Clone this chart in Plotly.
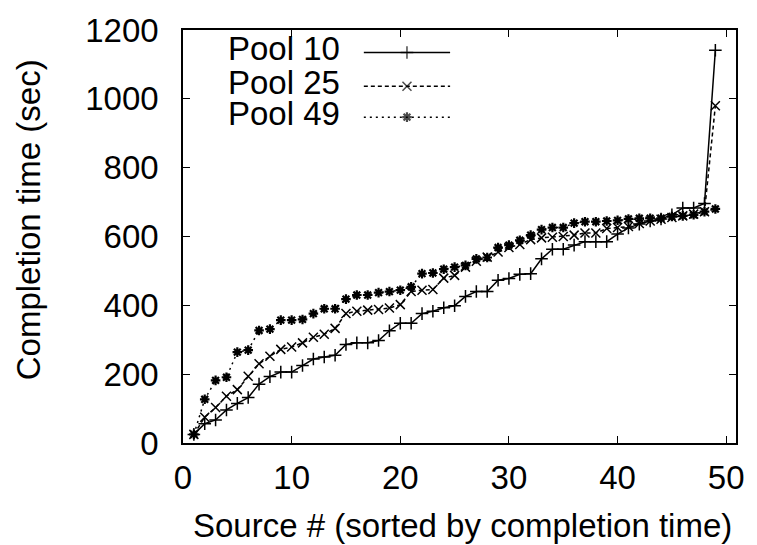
import plotly.graph_objects as go

# Completion time (sec) of each source, sorted, for three pool sizes
source_idx = list(range(1, 50))
pool10 = [25, 56, 67, 96, 115, 132, 171, 193, 206, 206, 225, 244, 250, 255, 286,
          291, 291, 298, 326, 348, 348, 376, 383, 393, 399, 426, 440, 440, 473, 478,
          490, 492, 535, 563, 563, 575, 585, 585, 585, 607, 625, 636, 645, 651, 663,
          683, 683, 696, 1141]
pool25 = [25, 75, 103, 136, 155, 194, 230, 252, 272, 279, 291, 307, 316, 333, 376,
          383, 386, 388, 392, 402, 440, 444, 446, 479, 487, 511, 528, 540, 555, 568,
          577, 591, 596, 598, 600, 604, 610, 610, 623, 626, 629, 638, 645, 650, 655,
          660, 665, 672, 980]
pool49 = [25, 127, 182, 191, 264, 270, 327, 331, 357, 357, 359, 376, 390, 390, 418,
          430, 430, 437, 440, 444, 454, 492, 494, 505, 511, 516, 535, 539, 568, 575,
          589, 604, 620, 626, 626, 639, 643, 643, 645, 647, 651, 653, 653, 653, 658,
          660, 663, 672, 680]

series_names = ["Pool 10", "Pool 25", "Pool 49"]
x_ticks = [0, 10, 20, 30, 40, 50]
y_ticks = [0, 200, 400, 600, 800, 1000, 1200]

FONT = "Liberation Sans, Arial, Helvetica, sans-serif"
FS = 33
styles = [
    dict(dash="solid", symbol="cross-thin", size=9, mlw=1.5),
    dict(dash="4px,3px", symbol="x-thin", size=9, mlw=1.5),
    dict(dash="2px,4px", symbol="asterisk", size=8, mlw=2.2),
]

fig = go.Figure()
for name, ys, st in zip(series_names, [pool10, pool25, pool49], styles):
    fig.add_trace(go.Scatter(
        x=source_idx, y=ys, name=name, mode="lines+markers",
        line=dict(color="black", width=1.5, dash=st["dash"]),
        marker=dict(symbol=st["symbol"], size=st["size"], color="black",
                    line=dict(color="black", width=st["mlw"])),
        showlegend=False,
    ))

# Key drawn inside the plot: text on the left, sample line with marker on the right
key_rows = [0.9455, 0.8637, 0.789]
key_x0, key_x1, key_text_x = 0.327, 0.483, 0.2855
for name, st, ky in zip(series_names, styles, key_rows):
    fig.add_trace(go.Scatter(
        x=[key_x0, (key_x0 + key_x1) / 2, key_x1], y=[ky, ky, ky],
        xaxis="x2", yaxis="y2", mode="lines+markers",
        line=dict(color="black", width=1.5, dash=st["dash"]),
        marker=dict(symbol=st["symbol"], size=[0, st["size"], 0], color="black",
                    line=dict(color="black", width=st["mlw"])),
        showlegend=False, hoverinfo="skip",
    ))
    fig.add_annotation(x=key_text_x, y=ky + 0.01, xref="paper", yref="paper",
                       text=name, showarrow=False, xanchor="right", yanchor="middle",
                       borderpad=0,
                       font=dict(family=FONT, size=FS, color="black"))

axis_common = dict(
    showgrid=False, zeroline=False, showline=True, linecolor="black", linewidth=1.5,
    mirror="ticks", ticks="inside", ticklen=7, tickwidth=1.2, tickcolor="black",
    tickfont=dict(family=FONT, size=FS, color="black"),
)

fig.update_layout(
    width=757, height=545,
    margin=dict(l=183, r=17, t=21, b=102),
    paper_bgcolor="white", plot_bgcolor="white",
    xaxis=dict(range=[0, 50.9], tickvals=x_ticks, ticklabelstandoff=5, **axis_common),
    yaxis=dict(range=[0, 1200], tickvals=y_ticks, ticklabelstandoff=16, **axis_common),
    xaxis2=dict(overlaying="x", range=[0, 1], visible=False),
    yaxis2=dict(overlaying="y", range=[0, 1], visible=False),
)

fig.add_annotation(x=0.506, y=-0.199, xref="paper", yref="paper",
                   text="Source # (sorted by completion time)", showarrow=False,
                   xanchor="center", yanchor="middle",
                   font=dict(family=FONT, size=FS, color="black"))
fig.add_annotation(x=-0.278, y=0.54, xref="paper", yref="paper",
                   text="Completion time (sec)", showarrow=False, textangle=-90,
                   xanchor="center", yanchor="middle",
                   font=dict(family=FONT, size=FS, color="black"))

fig.write_html("out.html")
